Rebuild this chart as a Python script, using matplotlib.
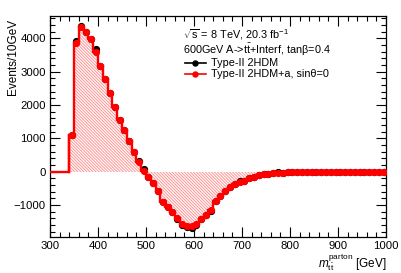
import matplotlib
matplotlib.use("Agg")
import matplotlib.pyplot as plt
from matplotlib.lines import Line2D
from matplotlib.ticker import MultipleLocator
import numpy as np

plt.rcParams['font.family'] = ['Liberation Sans', 'DejaVu Sans']
plt.rcParams['mathtext.fontset'] = 'custom'
plt.rcParams['mathtext.rm'] = 'Liberation Sans'
plt.rcParams['mathtext.it'] = 'Liberation Sans:italic'
plt.rcParams['mathtext.bf'] = 'Liberation Sans:bold'
plt.rcParams['hatch.linewidth'] = 0.7

# bin edges (GeV)
bin_lo = 300
bin_hi = 1000
bin_width = 10

# first non-empty bin starts at 340 GeV; bins 300-340 are empty
first_bin = 340
red_vals = [1100, 3870, 4350, 4190, 3990, 3590, 3170, 2780, 2350, 1950,
            1560, 1250, 920, 590, 300, 30,
            -160, -340, -580, -900, -1060, -1200, -1400, -1560, -1620, -1640,
            -1560, -1430, -1300, -1150, -870, -720, -590, -460, -360, -310,
            -270, -200, -150, -110, -80, -55, -40, -30, -25, -20,
            -20, -15, -15, -15, -12, -12, -10, -10, -10, -8,
            -8, -8, -6, -6, -5, -5, -5, -4, -4, -4]
black_vals = [1100, 3930, 4370, 4190, 3990, 3670, 3170, 2780, 2350, 1950,
              1560, 1250, 920, 590, 320, 70,
              -160, -340, -580, -900, -1060, -1200, -1430, -1600, -1670, -1680,
              -1590, -1430, -1300, -1180, -870, -720, -590, -460, -360, -280,
              -270, -200, -150, -110, -80, -55, -40, -20, -25, -20,
              -20, -15, -15, -15, -12, -12, -10, -10, -10, -8,
              -8, -8, -6, -6, -5, -5, -5, -4, -4, -4]

legend_labels = ['Type-II 2HDM', 'Type-II 2HDM+a, sin\u03b8=0']
ylabel = 'Events/10GeV'
xlabel = r'$m_{\mathrm{t\bar{t}}}^{\mathrm{parton}}$ [GeV]'
text_lines = [r'$\sqrt{\mathrm{s}}$ = 8 TeV, 20.3 fb$^{\mathrm{-1}}$',
              r'600GeV A->t$\mathrm{\bar{t}}$+Interf, tan$\mathrm{\beta}$=0.4']

edges = np.arange(bin_lo, bin_hi + bin_width, bin_width)
n_empty = (first_bin - bin_lo) // bin_width
red_full = np.array([0] * n_empty + red_vals, dtype=float)
centers = edges[:-1] + bin_width / 2
c_nz = centers[n_empty:]

W, H = 402, 273
fig = plt.figure(figsize=(W/100, H/100), dpi=100)
ax = fig.add_axes([50/W, 1-237/H, (386-50)/W, (237-16)/H])

RED = '#ff0000'
# hatched fill
ax.stairs(red_full, edges, baseline=0, fill=True, facecolor='none',
          edgecolor='#ff9494', hatch='\\' * 11, lw=0, zorder=1)
# black points
ax.plot(c_nz, black_vals, 'o', color='black', ms=4.2, zorder=2)
# red histogram line
ax.stairs(red_full, edges, baseline=None, color=RED, lw=1.7, zorder=3)
ax.plot([first_bin, first_bin], [0, red_vals[0]], color=RED, lw=1.7, zorder=3)
# red points
ax.plot(c_nz, red_vals, 'o', color=RED, ms=4.2, zorder=4)

ax.set_xlim(bin_lo, bin_hi)
ax.set_ylim(-1960, 4670)
ax.xaxis.set_major_locator(MultipleLocator(100))
ax.xaxis.set_minor_locator(MultipleLocator(20))
ax.yaxis.set_major_locator(MultipleLocator(1000))
ax.yaxis.set_minor_locator(MultipleLocator(200))
ax.tick_params(which='both', direction='in', top=True, right=True,
               labelsize=8.2, width=0.8, pad=3)
ax.tick_params(which='major', length=7)
ax.tick_params(which='minor', length=3.5)
for s in ax.spines.values():
    s.set_linewidth(0.9)

fig.text(13/W, 1-19/H, ylabel, fontsize=8.5, rotation=90,
         ha='center', va='top')
fig.text(386/W, 1-262/H, xlabel, fontsize=8.5, ha='right', va='center')

fs = 7.8
fig.text(183/W, 1-35/H, text_lines[0], fontsize=fs, ha='left', va='center')
fig.text(183/W, 1-50/H, text_lines[1], fontsize=fs, ha='left', va='center')

leg_y = [62.5, 74.5]
leg_colors = ['black', RED]
for yy, col, lab in zip(leg_y, leg_colors, legend_labels):
    fig.add_artist(Line2D([185/W, 206/W], [1-yy/H, 1-yy/H], color=col,
                          lw=1.2, transform=fig.transFigure))
    fig.add_artist(Line2D([195.5/W], [1-yy/H], color=col, marker='o', ms=3.6,
                          transform=fig.transFigure))
    fig.text(211/W, 1-yy/H, lab, fontsize=fs, ha='left', va='center')

fig.savefig('out.png', dpi=100)
